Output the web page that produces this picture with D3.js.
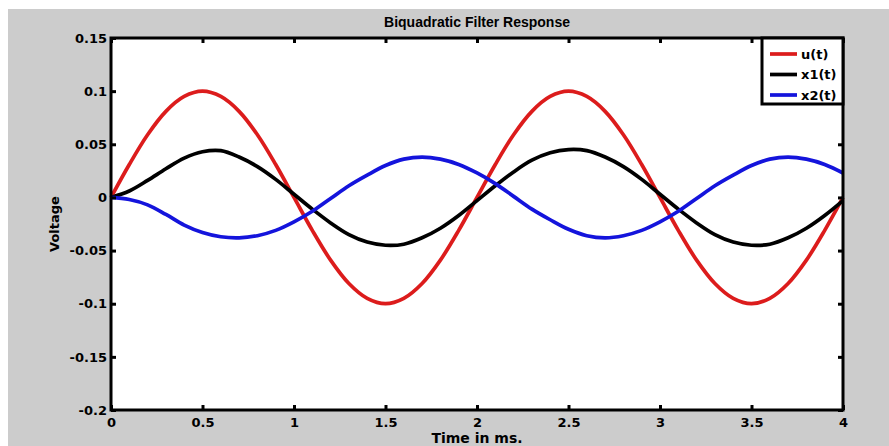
<!DOCTYPE html>
<html>
<head>
<meta charset="utf-8">
<script src="https://cdn.jsdelivr.net/npm/d3@7"></script>
<style>
body { margin: 0; background: #fff; }
text { font-family: "DejaVu Sans", sans-serif; font-weight: bold; }
</style>
</head>
<body>
<svg width="889" height="446"></svg>
<script>
var marge = { top: 38, bottom: 36, left: 111, right: 46 }

// data (time in ms, step 0.1)
var times = [0,0.1,0.2,0.3,0.4,0.5,0.6,0.7,0.8,0.9,1,1.1,1.2,1.3,1.4,1.5,1.6,1.7,1.8,1.9,2,
             2.1,2.2,2.3,2.4,2.5,2.6,2.7,2.8,2.9,3,3.1,3.2,3.3,3.4,3.5,3.6,3.7,3.8,3.9,4];
var u  = [0,0.031,0.059,0.081,0.095,0.1,0.095,0.081,0.059,0.031,0,-0.031,-0.059,-0.081,-0.095,-0.1,-0.095,-0.081,-0.059,-0.031,0,
          0.031,0.059,0.081,0.095,0.1,0.095,0.081,0.059,0.031,0,-0.031,-0.059,-0.081,-0.095,-0.1,-0.095,-0.081,-0.059,-0.031,0];
var x1 = [0,0.006,0.016,0.027,0.037,0.043,0.044,0.038,0.029,0.017,0.003,-0.011,-0.024,-0.035,-0.042,-0.045,-0.044,-0.038,-0.029,-0.017,-0.003,
          0.011,0.024,0.035,0.042,0.045,0.044,0.038,0.029,0.017,0.003,-0.011,-0.024,-0.035,-0.042,-0.045,-0.044,-0.038,-0.029,-0.017,-0.003];
var x2 = [0,-0.002,-0.007,-0.016,-0.026,-0.033,-0.037,-0.038,-0.036,-0.031,-0.023,-0.013,-0.001,0.011,0.021,0.030,0.036,0.038,0.036,0.031,0.023,
          0.013,0.001,-0.011,-0.021,-0.030,-0.036,-0.038,-0.036,-0.031,-0.023,-0.013,-0.001,0.011,0.021,0.030,0.036,0.038,0.036,0.031,0.023];
var seriesNames = ['u(t)','x1(t)','x2(t)'];
var seriesColors = ['#dc1c1c','#000000','#1414dc'];
var xTicks = [0,0.5,1,1.5,2,2.5,3,3.5,4];
var yTicks = [-0.2,-0.15,-0.1,-0.05,0,0.05,0.1,0.15];

var W = 889, H = 446;
var svg = d3.select("svg");

// grey figure background
svg.append("rect").attr("x",8).attr("y",9).attr("width",W-8).attr("height",H-9).attr("fill","#cccccc");

var x = d3.scaleLinear().domain([0,4]).range([marge.left, W-marge.right]);
var y = d3.scaleLinear().domain([-0.2,0.15]).range([H-marge.bottom, marge.top]);

svg.append("rect")
    .attr("x",x(0)).attr("y",y(0.15))
    .attr("width",x(4)-x(0)).attr("height",y(-0.2)-y(0.15))
    .attr("fill","#fff");

var fmt = function(d){ return String(+d.toFixed(2)) };

// lines
var data = [u, x1, x2];
var line = d3.line()
    .x(function(d,i){ return x(times[i]) })
    .y(function(d){ return y(d) })
    .curve(d3.curveCatmullRom.alpha(0.5));
svg.append("g").selectAll("path")
    .data(data)
    .enter()
    .append("path")
    .attr("d", line)
    .attr("fill","none")
    .attr("stroke",function(d,i){ return seriesColors[i] })
    .attr("stroke-width",3.7)
    .attr("stroke-linejoin","round");

// axes
function styleAxis(g){
    g.select(".domain").remove();
    g.selectAll(".tick line").attr("stroke","#000").attr("stroke-width",3);
    g.selectAll(".tick text").attr("fill","#000").style("font-size","13px");
}
svg.append("g").attr("transform","translate(0,"+y(-0.2)+")")
    .call(d3.axisBottom(x).tickValues(xTicks).tickFormat(fmt).tickSize(-5).tickSizeOuter(0).tickPadding(8))
    .call(styleAxis);
svg.append("g").attr("transform","translate(0,"+y(0.15)+")")
    .call(d3.axisTop(x).tickValues(xTicks).tickFormat("").tickSize(-5).tickSizeOuter(0))
    .call(styleAxis);
svg.append("g").attr("transform","translate("+x(0)+",0)")
    .call(d3.axisLeft(y).tickValues(yTicks).tickFormat(fmt).tickSize(-5).tickSizeOuter(0).tickPadding(4))
    .call(styleAxis);
svg.append("g").attr("transform","translate("+x(4)+",0)")
    .call(d3.axisRight(y).tickValues(yTicks).tickFormat("").tickSize(-5).tickSizeOuter(0))
    .call(styleAxis);

// box
svg.append("rect")
    .attr("x",x(0)).attr("y",y(0.15))
    .attr("width",x(4)-x(0)).attr("height",y(-0.2)-y(0.15))
    .attr("fill","none").attr("stroke","#000").attr("stroke-width",3);

// titles
svg.append("text").attr("x",(x(0)+x(4))/2).attr("y",27)
    .attr("text-anchor","middle").style("font-family","'Liberation Sans', Arial, sans-serif")
    .style("font-size","14px").text("Biquadratic Filter Response");
svg.append("text").attr("x",(x(0)+x(4))/2).attr("y",443)
    .attr("text-anchor","middle").style("font-size","14px").text("Time in ms.");
svg.append("text").attr("transform","translate(59,"+((y(0.15)+y(-0.2))/2)+") rotate(-90)")
    .attr("text-anchor","middle").style("font-size","13px").text("Voltage");

// legend
var lg = svg.append("g").attr("transform","translate(762,38)");
lg.append("rect").attr("width",81).attr("height",66)
    .attr("fill","#fff").attr("stroke","#000").attr("stroke-width",3);
var items = lg.selectAll(".item")
    .data(seriesNames)
    .enter()
    .append("g")
    .attr("transform",function(d,i){ return "translate(0,"+(16+i*20.5)+")" });
items.append("line").attr("x1",8).attr("x2",35).attr("y1",0).attr("y2",0)
    .attr("stroke",function(d,i){ return seriesColors[i] }).attr("stroke-width",3.7);
items.append("text").attr("x",39).attr("dy","0.35em").style("font-size","13px").text(function(d){ return d });
</script>
</body>
</html>
